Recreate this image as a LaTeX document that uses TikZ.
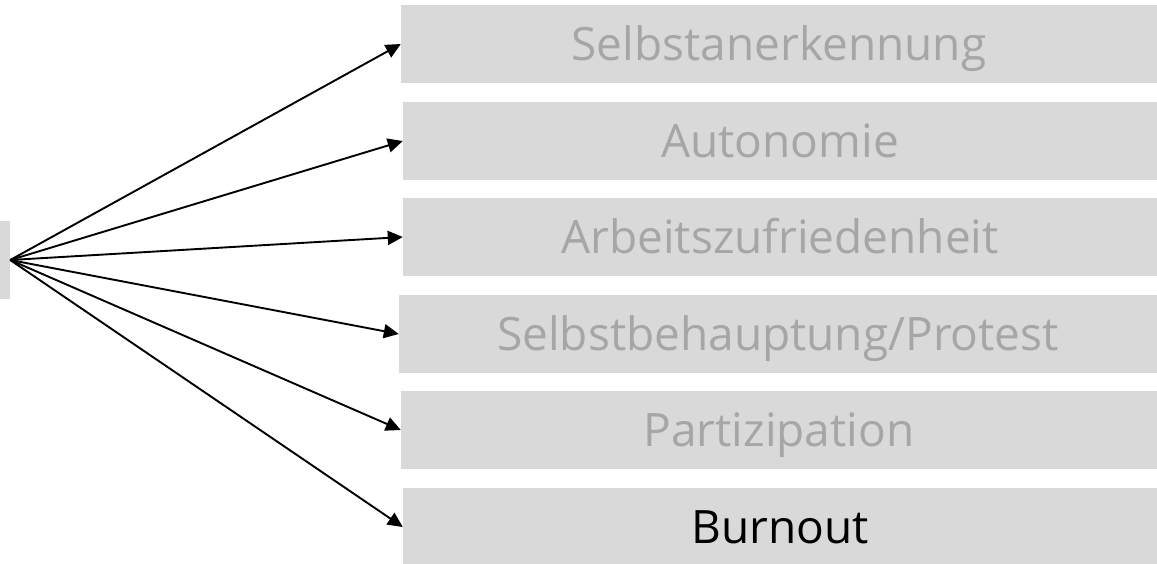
\documentclass[tikz,border=0pt]{standalone}
\usepackage{fontspec}
\setmainfont{Open Sans}
\usetikzlibrary{arrows.meta}
\definecolor{boxgray}{HTML}{D9D9D9}
\definecolor{txtgray}{HTML}{A6A6A6}
\tikzset{
  box/.style={fill=boxgray, draw=none, minimum height=78pt, inner sep=0pt,
    text height=33pt, text depth=0pt, font=\fontsize{46}{52}\selectfont, text=txtgray},
  conn/.style={line width=1.9pt, -{Triangle[length=15pt, width=14pt]}}
}
\begin{document}
\begin{tikzpicture}[x=1pt, y=-1pt]
\useasboundingbox (0,0) rectangle (1157,563);
\clip (0,0) rectangle (1157,563);
\node[fill=boxgray, minimum width=20pt, minimum height=78pt, inner sep=0pt] (src) at (0,260) {};
\node[box, minimum width=756pt] (b1) at (779,44) {Selbstanerkennung};
\node[box, minimum width=754pt] (b2) at (780,141) {Autonomie};
\node[box, minimum width=754pt] (b3) at (780,237) {Arbeitszufriedenheit};
\node[box, minimum width=758pt] (b4) at (778,334) {Selbstbehauptung/Protest};
\node[box, minimum width=756pt] (b5) at (779,430) {Partizipation};
\node[box, minimum width=754pt, text=black] (b6) at (780,527) {Burnout};
\foreach \b in {b1,b2,b3,b4,b5,b6}
  \draw[conn] (src.east) -- (\b.west);
\end{tikzpicture}
\end{document}
